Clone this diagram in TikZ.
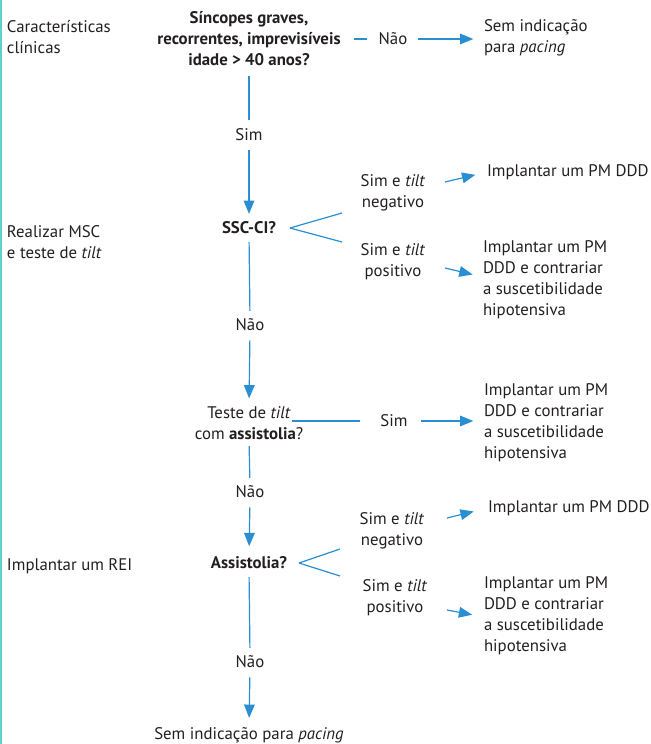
\documentclass[tikz,border=0pt]{standalone}
\usepackage{fontspec}
\setmainfont{PT Sans}
\usetikzlibrary{arrows.meta}
\definecolor{cblue}{HTML}{2A8FD2}
\definecolor{cteal}{HTML}{5FCFCF}
\definecolor{ctext}{HTML}{231F20}
\begin{document}
\begin{tikzpicture}[x=0.75pt,y=-0.75pt,
  txt/.style={inner sep=0pt,outer sep=0pt,text=ctext,font=\fontsize{12.6}{15.75}\selectfont},
  ctr/.style={txt,align=center},
  lft/.style={txt,align=left,anchor=west},
  bld/.style={font=\bfseries\fontsize{12.6}{15.75}\selectfont},
  line/.style={draw=cblue,line width=0.9pt},
  arr/.style={line,-{Triangle[length=10pt,width=8pt]}}]
\useasboundingbox (0,0) rectangle (651,744);
\draw[cteal,line width=1.5pt] (1,0) -- (1,744);
% left column
\node[lft] (l1) at (7,37) {Características\\clínicas};
\node[lft] (l2) at (7,242) {Realizar MSC\\e teste de \textit{tilt}};
\node[lft] (l3) at (7,566) {Implantar um REI};
% main column
\node[ctr,bld] (q1) at (249,39) {Síncopes graves,\\recorrentes, imprevisíveis\\idade > 40 anos?};
\node[ctr] (no1) at (393,39) {Não};
\node[lft] (r1) at (484,37.5) {Sem indicação\\para \textit{pacing}};
\node[ctr] (sim1) at (249,135) {Sim};
\node[ctr,bld] (q2) at (249,228) {SSC-CI?};
\node[ctr] (s2a) at (393,193) {Sim e \textit{tilt}\\negativo};
\node[lft] (r2a) at (487,172) {Implantar um PM DDD};
\node[ctr] (s2b) at (393,262) {Sim e \textit{tilt}\\positivo};
\node[lft] (r2b) at (483,280) {Implantar um PM\\DDD e contrariar\\a suscetibilidade\\hipotensiva};
\node[ctr] (nao2) at (250,325) {Não};
\node[ctr] (q3) at (249,423) {Teste de \textit{tilt}\\com \textbf{assistolia}?};
\node[ctr] (sim3) at (394,421) {Sim};
\node[lft] (r3) at (484,423) {Implantar um PM\\DDD e contrariar\\a suscetibilidade\\hipotensiva};
\node[ctr] (nao3) at (250,492) {Não};
\node[ctr,bld] (q4) at (249,563) {Assistolia?};
\node[ctr] (s4a) at (392,531) {Sim e \textit{tilt}\\negativo};
\node[lft] (r4a) at (488,508) {Implantar um PM DDD};
\node[ctr] (s4b) at (395,598) {Sim e \textit{tilt}\\positivo};
\node[lft] (r4b) at (484,616) {Implantar um PM\\DDD e contrariar\\a suscetibilidade\\hipotensiva};
\node[ctr] (nao4) at (250,662) {Não};
\node[ctr] (end) at (249,735) {Sem indicação para \textit{pacing}};
% coordinates
\coordinate (f2a) at (342,213);
\coordinate (f2b) at (342,242);
\coordinate (a2a) at (445,182);
\coordinate (a2b) at (445,268);
\coordinate (f4a) at (340,549);
\coordinate (f4b) at (340,576);
\coordinate (a4a) at (447,518);
\coordinate (a4b) at (447,610);
\coordinate (q2e) at (290,228);
\coordinate (q4e) at (299,563);
\coordinate (q3e) at (292,421);
% connectors
\draw[line,shorten <=10pt,shorten >=9pt] (q1.east |- no1) -- (no1.west);
\draw[arr,shorten <=8pt,shorten >=8pt] (no1.east) -- (r1.west |- no1);
\draw[line,shorten <=7pt,shorten >=7pt] (q1.south) -- (sim1.north);
\draw[arr,shorten <=7pt,shorten >=6pt] (sim1.south) -- (q2.north);
\draw[line] (q2e) -- (f2a);
\draw[line] (q2e) -- (f2b);
\draw[arr,shorten >=9pt] (a2a) -- (r2a.west);
\draw[arr,shorten >=8pt] (a2b) -- (r2b.west |- 0,277);
\draw[line,shorten <=6pt,shorten >=6pt] (q2.south) -- (nao2.north);
\draw[arr,shorten <=7pt,shorten >=6pt] (nao2.south) -- (q3.north);
\draw[line,shorten >=15pt] (q3e) -- (sim3.west);
\draw[arr,shorten <=10pt,shorten >=8pt] (sim3.east) -- (r3.west |- sim3);
\draw[line,shorten <=5pt,shorten >=6pt] (q3.south) -- (nao3.north);
\draw[arr,shorten <=7pt,shorten >=8pt] (nao3.south) -- (q4.north);
\draw[line] (q4e) -- (f4a);
\draw[line] (q4e) -- (f4b);
\draw[arr,shorten >=11pt] (a4a) -- (r4a.west);
\draw[arr,shorten >=9pt] (a4b) -- (r4b.west |- 0,617);
\draw[line,shorten <=6pt,shorten >=6pt] (q4.south) -- (nao4.north);
\draw[arr,shorten <=7pt,shorten >=7pt] (nao4.south) -- (end.north);
\end{tikzpicture}
\end{document}
